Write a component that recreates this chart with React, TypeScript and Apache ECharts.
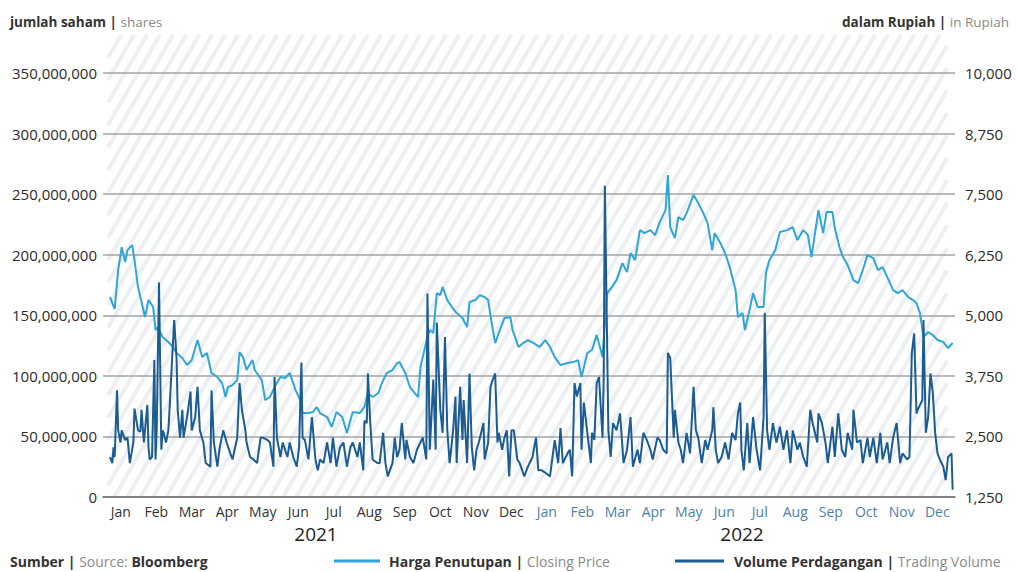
import React, { useEffect, useRef } from "react";
import * as echarts from "echarts";

// Month labels of the two years shown
const monthLabels = [
  "Jan", "Feb", "Mar", "Apr", "May", "Jun", "Jul", "Aug", "Sep", "Oct", "Nov", "Dec",
  "Jan", "Feb", "Mar", "Apr", "May", "Jun", "Jul", "Aug", "Sep", "Oct", "Nov", "Dec",
];
const yearLabels = ["2021", "2022"];
const totalDays = 730; // 1 Jan 2021 .. 31 Dec 2022

// Closing price (Rupiah); day = days since 1 Jan 2021
const priceDays = [
  6, 10, 13, 16, 19, 21, 25, 27, 30, 34, 36, 39, 43, 45, 47, 51, 56, 60, 63, 68,
  72, 76, 81, 85, 89, 93, 98, 102, 105, 107, 111, 115, 117, 120, 123, 128, 130, 136, 139, 143,
  147, 152, 156, 160, 165, 169, 171, 176, 180, 183, 186, 192, 196, 200, 205, 209, 212, 214, 220, 224,
  227, 231, 236, 239, 243, 248, 252, 254, 259, 263, 267, 270, 272, 274, 278, 280, 283, 286, 289, 291,
  295, 299, 303, 308, 312, 314, 319, 323, 327, 330, 333, 336, 340, 344, 349, 351, 356, 360, 364, 369,
  374, 379, 383, 387, 392, 398, 403, 407, 410, 415, 419, 423, 428, 432, 436, 440, 445, 449, 452, 456,
  460, 464, 469, 473, 477, 482, 484, 486, 490, 493, 497, 500, 506, 510, 514, 518, 522, 524, 529, 533,
  537, 542, 544, 548, 550, 554, 557, 561, 566, 568, 571, 576, 580, 586, 591, 595, 600, 604, 607, 613,
  617, 620, 625, 627, 631, 634, 638, 643, 647, 651, 655, 660, 664, 668, 672, 677, 681, 685, 690, 694,
  697, 700, 703, 707, 711, 715, 720, 724, 728,
];
const priceValues = [
  5376, 5129, 5933, 6407, 6098, 6345, 6449, 6139, 5582, 5170, 4963, 5314, 5170, 4695, 4757, 4551, 4448, 4345, 4221, 4118,
  3973, 4076, 4489, 4138, 4221, 3808, 3726, 3602, 3313, 3519, 3560, 3664, 4241, 4138, 3870, 4076, 3870, 3664, 3251, 3313,
  3519, 3726, 3705, 3808, 3457, 3251, 2983, 2983, 3004, 3107, 2983, 2900, 2694, 3004, 2900, 2570, 2838, 3004, 2983, 3107,
  3396, 3313, 3396, 3602, 3808, 3870, 4014, 4035, 3808, 3519, 3396, 3313, 3932, 4138, 4551, 4695, 4633, 5458, 5417, 5582,
  5314, 5170, 5046, 4943, 4757, 5273, 5314, 5417, 5376, 5314, 4840, 4427, 4695, 4943, 4963, 4695, 4345, 4427, 4489, 4427,
  4345, 4489, 4345, 4138, 3973, 4014, 4035, 4076, 3726, 4221, 4283, 4592, 4138, 5458, 5582, 5727, 6077, 5891, 6283, 6139,
  6758, 6696, 6758, 6655, 6923, 7171, 7893, 6820, 6593, 7026, 6964, 7109, 7480, 7315, 7129, 6902, 6345, 6696, 6490, 6283,
  5995, 5520, 4963, 5046, 4695, 5108, 5458, 5170, 5170, 5871, 6139, 6345, 6717, 6758, 6820, 6552, 6758, 6655, 6201, 7171,
  6696, 7129, 7129, 6799, 6407, 6201, 6036, 5727, 5665, 5933, 6242, 6180, 5933, 5995, 5789, 5520, 5458, 5520, 5376, 5314,
  5252, 5046, 4551, 4654, 4592, 4489, 4448, 4324, 4427,
];

// Trading volume (million shares); day = days since 1 Jan 2021
const volumeDays = [
  6, 8, 9, 10, 12, 13, 15, 16, 19, 21, 23, 26, 27, 30, 32, 33, 35, 38, 39, 40,
  42, 44, 45, 46, 48, 50, 51, 52, 54, 56, 57, 59, 61, 63, 64, 66, 68, 69, 72, 75,
  76, 79, 81, 83, 86, 88, 92, 93, 95, 98, 100, 103, 106, 109, 111, 115, 117, 119, 122, 123,
  126, 129, 132, 135, 137, 141, 143, 146, 147, 149, 152, 154, 158, 160, 163, 166, 168, 170, 171, 173,
  176, 179, 182, 184, 186, 189, 192, 195, 197, 200, 203, 206, 209, 212, 214, 218, 220, 223, 224, 226,
  227, 229, 231, 235, 237, 240, 242, 244, 248, 250, 252, 254, 256, 259, 260, 263, 266, 269, 272, 274,
  277, 278, 280, 283, 285, 286, 289, 291, 293, 295, 297, 300, 302, 303, 306, 308, 309, 312, 314, 316,
  318, 320, 322, 326, 327, 330, 332, 334, 336, 338, 339, 342, 344, 346, 348, 350, 352, 355, 357, 361,
  364, 368, 371, 373, 376, 379, 383, 387, 390, 392, 394, 398, 400, 402, 404, 406, 409, 410, 412, 415,
  418, 419, 421, 423, 425, 428, 429, 430, 433, 435, 437, 440, 443, 446, 449, 452, 454, 458, 460, 463,
  466, 469, 471, 475, 477, 480, 483, 484, 486, 489, 490, 493, 495, 497, 500, 503, 506, 508, 510, 513,
  516, 518, 522, 523, 525, 527, 530, 533, 536, 539, 542, 544, 546, 547, 549, 552, 554, 557, 560, 563,
  566, 567, 569, 571, 574, 577, 580, 583, 586, 589, 591, 595, 597, 600, 603, 606, 608, 612, 613, 616,
  619, 621, 625, 627, 630, 633, 636, 638, 642, 643, 646, 649, 651, 655, 657, 660, 663, 666, 668, 672,
  674, 677, 680, 683, 685, 689, 691, 693, 695, 697, 698, 702, 703, 705, 707, 709, 711, 713, 715, 717,
  720, 722, 724, 727, 728,
];
const volumeMillions = [
  33, 28, 41, 33, 88, 55, 45, 55, 47, 49, 28, 45, 73, 55, 54, 72, 45, 76, 41, 31,
  33, 113, 31, 55, 177, 39, 55, 53, 45, 55, 72, 110, 146, 115, 72, 49, 72, 49, 66, 87,
  55, 66, 91, 55, 45, 28, 25, 88, 45, 25, 41, 55, 45, 36, 31, 49, 94, 72, 55, 45,
  33, 31, 28, 49, 49, 47, 45, 25, 99, 49, 33, 45, 33, 45, 33, 25, 41, 111, 49, 47,
  31, 66, 31, 22, 31, 28, 45, 28, 49, 25, 41, 45, 25, 41, 45, 33, 45, 22, 63, 61,
  102, 61, 31, 28, 28, 53, 28, 17, 28, 49, 33, 39, 61, 31, 47, 33, 28, 39, 45, 49,
  31, 168, 39, 97, 39, 144, 72, 53, 132, 55, 28, 55, 83, 28, 91, 47, 80, 28, 102, 41,
  22, 39, 45, 61, 31, 45, 91, 97, 102, 45, 53, 39, 49, 55, 17, 55, 55, 31, 28, 17,
  25, 33, 49, 22, 22, 20, 17, 47, 28, 57, 28, 36, 39, 17, 94, 83, 94, 39, 78, 53,
  28, 53, 47, 94, 99, 49, 99, 257, 55, 33, 61, 55, 69, 28, 39, 66, 25, 39, 28, 53,
  47, 39, 31, 49, 47, 39, 36, 119, 115, 49, 72, 45, 39, 28, 53, 36, 91, 55, 49, 28,
  47, 39, 55, 74, 39, 28, 33, 45, 31, 53, 47, 69, 78, 39, 22, 61, 28, 66, 39, 22,
  66, 152, 55, 39, 61, 45, 58, 39, 55, 28, 55, 39, 45, 33, 25, 72, 61, 45, 69, 61,
  45, 28, 58, 33, 69, 39, 33, 53, 39, 72, 45, 47, 28, 49, 33, 49, 28, 53, 31, 45,
  28, 49, 61, 28, 36, 31, 33, 119, 135, 69, 72, 80, 146, 53, 66, 102, 86, 53, 36, 31,
  25, 14, 33, 36, 6,
];

const FONT = "'Open Sans', 'Noto Sans', sans-serif";
const PRICE_COLOR = "#2fa6d7";
const VOLUME_COLOR = "#1b5c92";

function fmt(v: number) {
  return Math.round(v).toLocaleString("en-US");
}

export default function App() {
  const ref = useRef<HTMLDivElement>(null);

  useEffect(() => {
    if (!ref.current) return;
    const chart = echarts.init(ref.current, null, { renderer: "svg" });

    // hatched background panel (decoration)
    const L = 108, R = 947, T = 35, B = 497;
    const H = B - T;
    const run = H / Math.tan((60 * Math.PI) / 180);
    const step = 13;
    const stripes: any[] = [];
    for (let s = L - run; s < R; s += step) {
      const t0 = Math.max(0, (L - s) / run);
      const t1 = Math.min(1, (R - s) / run);
      if (t1 <= t0) continue;
      stripes.push({
        type: "line",
        z: -10,
        silent: true,
        shape: { x1: s + run * t0, y1: B - H * t0, x2: s + run * t1, y2: B - H * t1 },
        style: { stroke: "#edeff2", lineWidth: 4 },
      });
    }

    const priceData = priceDays.map((d, i) => [d, priceValues[i]]);
    const volumeData = volumeDays.map((d, i) => [d, volumeMillions[i] * 1e6]);

    const richTwoTone = (size: number, boldFirst: boolean) => ({
      a: { fontSize: size, fontWeight: boldFirst ? "bold" : "normal", fill: "#333333", fontFamily: FONT },
      b: { fontSize: size, fill: "#8a8a8a", fontFamily: FONT },
    });

    const option: any = {
      animation: false,
      backgroundColor: "#ffffff",
      textStyle: { fontFamily: FONT },
      grid: { left: 103, right: 62, top: 73, bottom: 75 },
      xAxis: [
        {
          type: "category",
          data: monthLabels,
          boundaryGap: true,
          axisLine: { show: true, lineStyle: { color: "#6f6f6f", width: 1.5 } },
          axisTick: { show: false },
          splitLine: { show: false },
          axisLabel: {
            interval: 0,
            margin: 7,
            fontSize: 14,
            fontFamily: FONT,
            color: (_v: any, idx: number) => (idx < 12 ? "#333333" : "#4f7fa8"),
          },
        },
        {
          type: "value",
          min: 0,
          max: totalDays,
          show: false,
        },
      ],
      yAxis: [
        {
          type: "value",
          min: 0,
          max: 350000000,
          interval: 50000000,
          position: "left",
          axisLine: { show: false },
          axisTick: { show: false },
          splitLine: { show: true, lineStyle: { color: "#a3a3a3", width: 1.5 } },
          axisLabel: { margin: 6, fontSize: 15, color: "#2b2b2b", fontFamily: FONT, formatter: (v: number) => fmt(v) },
        },
        {
          type: "value",
          min: 1250,
          max: 10000,
          interval: 1250,
          position: "right",
          axisLine: { show: false },
          axisTick: { show: false },
          splitLine: { show: false },
          axisLabel: { margin: 10, fontSize: 15, color: "#2b2b2b", fontFamily: FONT, formatter: (v: number) => fmt(v) },
        },
      ],
      series: [
        {
          name: "Harga Penutupan | Closing Price",
          type: "line",
          xAxisIndex: 1,
          yAxisIndex: 1,
          data: priceData,
          showSymbol: false,
          lineStyle: { color: PRICE_COLOR, width: 2 },
          itemStyle: { color: PRICE_COLOR },
          z: 3,
        },
        {
          name: "Volume Perdagangan | Trading Volume",
          type: "line",
          xAxisIndex: 1,
          yAxisIndex: 0,
          data: volumeData,
          showSymbol: false,
          lineStyle: { color: VOLUME_COLOR, width: 2 },
          itemStyle: { color: VOLUME_COLOR },
          z: 4,
        },
      ],
      graphic: [
        ...stripes,
        {
          type: "text",
          x: 10,
          y: 22,
          style: {
            text: "{a|jumlah saham | }{b|shares}",
            verticalAlign: "middle",
            rich: richTwoTone(13.5, true),
          },
        },
        {
          type: "text",
          x: 1009,
          y: 22,
          style: {
            text: "{a|dalam Rupiah | }{b|in Rupiah}",
            align: "right",
            verticalAlign: "middle",
            rich: richTwoTone(13.5, true),
          },
        },
        {
          type: "text",
          x: 316,
          y: 534,
          style: { text: yearLabels[0], align: "center", verticalAlign: "middle", fontSize: 19, fill: "#222222", fontFamily: FONT },
        },
        {
          type: "text",
          x: 742,
          y: 534,
          style: { text: yearLabels[1], align: "center", verticalAlign: "middle", fontSize: 19, fill: "#222222", fontFamily: FONT },
        },
        {
          type: "text",
          x: 10,
          y: 561,
          style: {
            text: "{a|Sumber | }{b|Source: }{a|Bloomberg}",
            verticalAlign: "middle",
            rich: richTwoTone(14, true),
          },
        },
        {
          type: "line",
          shape: { x1: 334, y1: 561, x2: 380, y2: 561 },
          style: { stroke: PRICE_COLOR, lineWidth: 3 },
        },
        {
          type: "text",
          x: 389,
          y: 561,
          style: {
            text: "{a|Harga Penutupan | }{b|Closing Price}",
            verticalAlign: "middle",
            rich: richTwoTone(14, true),
          },
        },
        {
          type: "line",
          shape: { x1: 675, y1: 561, x2: 724, y2: 561 },
          style: { stroke: VOLUME_COLOR, lineWidth: 3 },
        },
        {
          type: "text",
          x: 734,
          y: 561,
          style: {
            text: "{a|Volume Perdagangan | }{b|Trading Volume}",
            verticalAlign: "middle",
            rich: richTwoTone(14, true),
          },
        },
      ],
    };

    chart.setOption(option);
    return () => chart.dispose();
  }, []);

  return (
    <div
      ref={ref}
      style={{ position: "absolute", left: 0, top: 0, width: 1017, height: 572 }}
    />
  );
}
